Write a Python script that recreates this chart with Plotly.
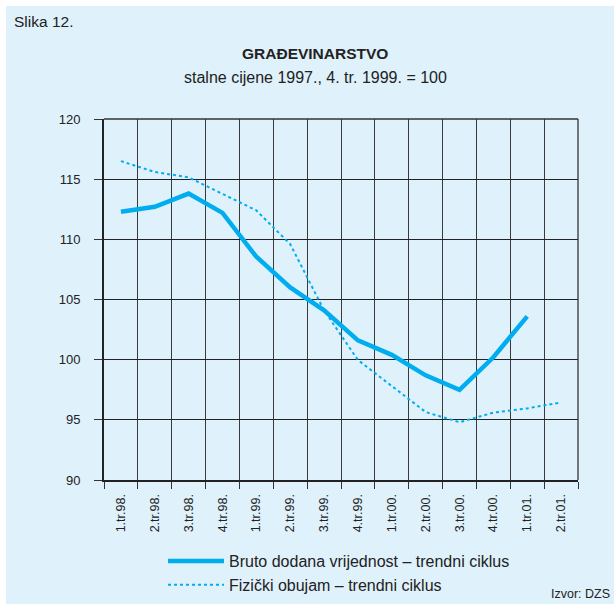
import plotly.graph_objects as go

categories = ["1.tr.98.", "2.tr.98.", "3.tr.98.", "4.tr.98.", "1.tr.99.", "2.tr.99.", "3.tr.99.",
              "4.tr.99.", "1.tr.00.", "2.tr.00.", "3.tr.00.", "4.tr.00.", "1.tr.01.", "2.tr.01."]
bruto = [112.3, 112.7, 113.8, 112.2, 108.55, 106.0, 104.1, 101.6, 100.4, 98.7, 97.5, 100.2, 103.6, None]
fizicki = [116.5, 115.6, 115.15, 113.75, 112.4, 109.6, 104.1, 99.97, 97.8, 95.65, 94.8, 95.6, 95.95, 96.45]

W, H = 614, 604
L, R, T, B = 104, 36, 119, 124
BG = "#dff1fb"
CYAN = "#00aeef"
FONT = "Liberation Sans, Arial, sans-serif"

def px(x):
    return (x - L) / (W - L - R)

def py(y):
    return (H - B - y) / (H - T - B)

fig = go.Figure()
fig.add_trace(go.Scatter(x=categories, y=bruto, mode="lines", name="Bruto dodana vrijednost – trendni ciklus",
                         line=dict(color=CYAN, width=4.5), connectgaps=False))
fig.add_trace(go.Scatter(x=categories, y=fizicki, mode="lines", name="Fizički obujam – trendni ciklus",
                         line=dict(color=CYAN, width=2, dash="dot")))

shapes = [
    dict(type="rect", xref="paper", yref="paper", x0=px(6), x1=px(W + 2), y0=py(H + 2), y1=py(6),
         fillcolor=BG, line=dict(width=0), layer="below"),
    dict(type="line", xref="paper", yref="paper", x0=0, x1=1, y0=1, y1=1, line=dict(color="#333", width=1.3)),
    dict(type="line", xref="paper", yref="paper", x0=1, x1=1, y0=0, y1=1, line=dict(color="#333", width=1.3)),
]

annotations = [
    dict(text="Slika 12.", x=px(12), y=py(22), xref="paper", yref="paper", xanchor="left", yanchor="middle",
         showarrow=False, font=dict(size=15.5, color="#222", family=FONT)),
    dict(text="<b>GRAĐEVINARSTVO</b>", x=px(315), y=py(54), xref="paper", yref="paper", xanchor="center",
         yanchor="middle", showarrow=False, font=dict(size=15.5, color="#222", family=FONT)),
    dict(text="stalne cijene 1997., 4. tr. 1999. = 100", x=px(315), y=py(77), xref="paper", yref="paper",
         xanchor="center", yanchor="middle", showarrow=False, font=dict(size=16, color="#222", family=FONT)),
    dict(text="Izvor: DZS", x=px(612), y=py(594), xref="paper", yref="paper", xanchor="right", yanchor="middle",
         showarrow=False, font=dict(size=12.5, color="#222", family=FONT)),
]

fig.update_layout(
    width=W, height=H,
    margin=dict(l=L, r=R, t=T, b=B, pad=0, autoexpand=False),
    paper_bgcolor="white",
    plot_bgcolor="rgba(0,0,0,0)",
    font=dict(family=FONT, size=12, color="#222"),
    shapes=shapes,
    annotations=annotations,
    showlegend=True,
    legend=dict(x=px(163), y=py(544), xanchor="left", yanchor="top", bgcolor="rgba(0,0,0,0)",
                font=dict(size=16, color="#222", family=FONT), tracegroupgap=0, itemwidth=56),
    xaxis=dict(type="category", range=[-0.5, 13.5], tickson="boundaries", showgrid=True,
               gridcolor="#3a3a3a", gridwidth=1.2, ticks="outside", ticklen=7, tickcolor="#333", tickwidth=1.2,
               tickangle=-90, showline=True, linecolor="#222", linewidth=2.2, zeroline=False,
               tickfont=dict(size=12.5, color="#222"), fixedrange=True, automargin=False,
               ticklabelstandoff=7),
    yaxis=dict(range=[90, 120], dtick=5, showgrid=True, gridcolor="#222", gridwidth=1.2,
               ticks="outside", ticklen=8, tickcolor="#333", tickwidth=1.2, showline=True,
               linecolor="#222", linewidth=2.2, zeroline=False, tickfont=dict(size=13, color="#222"),
               fixedrange=True, automargin=False, ticksuffix="\u00a0\u00a0\u00a0"),
)

fig.write_html("out.html", config={"displayModeBar": False},
               post_script="document.body.style.margin='0';document.body.style.overflow='hidden';")
